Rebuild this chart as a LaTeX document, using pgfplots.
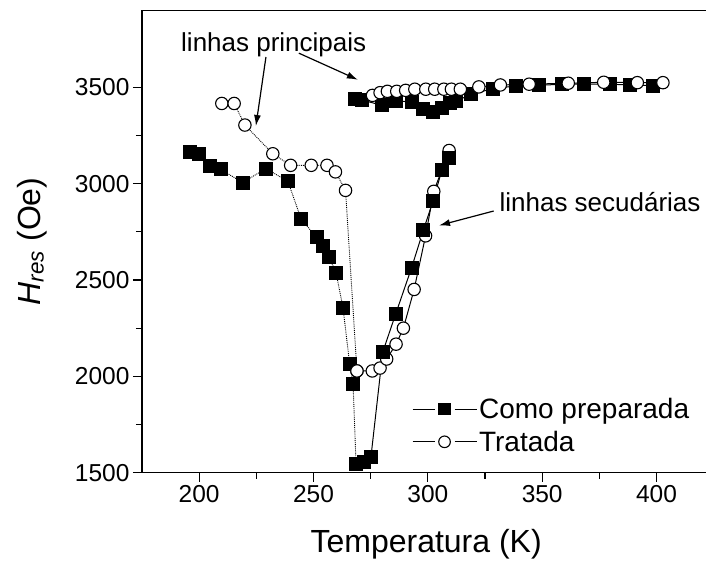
\documentclass[border=0pt]{standalone}
\usepackage{fontspec}
\setmainfont{Liberation Sans}
\usepackage{pgfplots}
\pgfplotsset{compat=1.18}
\usetikzlibrary{arrows.meta}

\pgfplotstableread{
x y
196.0 3163
199.7 3154
204.8 3094
209.4 3074
219.0 3006
229.2 3078
238.8 3012
244.6 2816
251.3 2722
254.0 2677
256.8 2620
259.9 2535
262.9 2356
265.8 2066
267.3 1962
268.6 1545
}\sqLowDot

\pgfplotstableread{
x y
268.6 1545
271.9 1554
275.1 1580
280.3 2127
286.0 2326
292.9 2564
298.0 2757
302.3 2911
306.2 3073
309.1 3134
}\sqLowSolid

\pgfplotstableread{
x y
268.0 3441
271.2 3434
280.1 3406
286.1 3429
292.9 3424
298.0 3389
302.3 3373
306.4 3394
309.6 3417
312.5 3429
319.0 3464
328.5 3493
338.5 3507
348.5 3510
358.5 3516
368.5 3516
379.5 3516
388.5 3512
398.5 3509
}\sqUp

\pgfplotstableread{
x y
209.9 3416
215.3 3416
220.0 3304
232.2 3155
240.0 3095
249.0 3095
255.9 3095
259.6 3061
264.0 2965
269.0 2028
}\ciLowDot

\pgfplotstableread{
x y
269.0 2028
275.7 2028
279.1 2043
282.0 2090
286.1 2167
289.3 2250
294.0 2451
299.0 2729
302.6 2960
309.3 3172
}\ciLowSolid

\pgfplotstableread{
x y
275.8 3458
279.1 3472
282.3 3479
286.4 3479
290.3 3484
294.3 3490
299.1 3490
303.0 3490
307.0 3490
310.3 3490
314.2 3490
322.3 3502
331.7 3512
344.3 3516
361.4 3521
376.9 3526
391.6 3524
402.8 3524
}\ciUp

\begin{document}
\begin{tikzpicture}
\begin{axis}[
  scale only axis, width=571.7pt, height=462.5pt,
  xmin=175, xmax=425, ymin=1500, ymax=3900,
  xtick={200,250,...,400}, ytick={1500,2000,...,3500},
  minor x tick num=1, minor y tick num=1,
  tick align=outside, xtick pos=bottom, ytick pos=left,
  major tick length=9pt, minor tick length=6pt,
  every tick/.style={black, line width=1.1pt},
  axis line style={line width=1.2pt},
  tick label style={font=\fontsize{24.5}{28}\selectfont},
  /pgf/number format/assume math mode=true,
  /pgf/number format/set thousands separator={},
  xlabel={Temperatura (K)},
  ylabel={\textit{H}\textsubscript{\textit{res}} (Oe)},
  label style={font=\fontsize{32}{38}\selectfont},
  xlabel style={at={(axis description cs:0.497,-0.1736)}, anchor=base},
  ylabel style={at={(axis description cs:-0.1784,0.5)}, anchor=base},
  legend style={at={(rel axis cs:0.472,0.166)}, anchor=north west, draw=none, fill=none,
    font=\fontsize{28}{32}\selectfont, inner sep=0pt, row sep=7pt,
    nodes={inner sep=2pt}},
  legend cell align=left,
  legend image code/.code={
    \draw[#1, mark=none] (0pt,0pt) -- (22pt,0pt) (42pt,0pt) -- (64pt,0pt);
    \draw[#1, mark size=5.8pt] plot coordinates {(32pt,0pt)};
  },
  sq/.style={black, mark=square*, mark size=6.5pt, mark options={solid, fill=black}},
  ci/.style={black, mark=*, mark size=6.2pt, mark options={solid, fill=white, line width=1.1pt}},
]
\addplot[ci, densely dotted, line width=0.9pt, forget plot] table {\ciLowDot};
\addplot[sq, densely dotted, line width=0.9pt, forget plot] table {\sqLowDot};
\addplot[ci, solid, line width=1pt, forget plot] table {\ciLowSolid};
\addplot[sq, solid, line width=1pt] table {\sqLowSolid};
\addlegendentry{Como preparada}
\addplot[sq, solid, line width=1pt, forget plot] table {\sqUp};
\addplot[ci, solid, line width=1pt] table {\ciUp};
\addlegendentry{Tratada}

\node[font=\fontsize{26}{30}\selectfont, anchor=base] at (axis cs:232.6,3687) {linhas principais};
\node[font=\fontsize{26}{30}\selectfont, anchor=base] at (axis cs:375.3,2858) {linhas secudárias};
\draw[line width=1.2pt, -{Latex[length=11pt,width=7pt]}] (axis cs:229.2,3657) -- (axis cs:224.8,3299);
\draw[line width=1.2pt, -{Latex[length=11pt,width=7pt]}] (axis cs:243.6,3677) -- (axis cs:269.4,3539);
\draw[line width=1.2pt, -{Latex[length=11pt,width=7pt]}] (axis cs:328.8,2858) -- (axis cs:304.9,2783);
\end{axis}
\pgfresetboundingbox
\path[use as bounding box] ([shift={(-142pt,-90.3pt)}]current axis.south west) rectangle ([shift={(564pt,472.7pt)}]current axis.south west);
\end{tikzpicture}
\end{document}
